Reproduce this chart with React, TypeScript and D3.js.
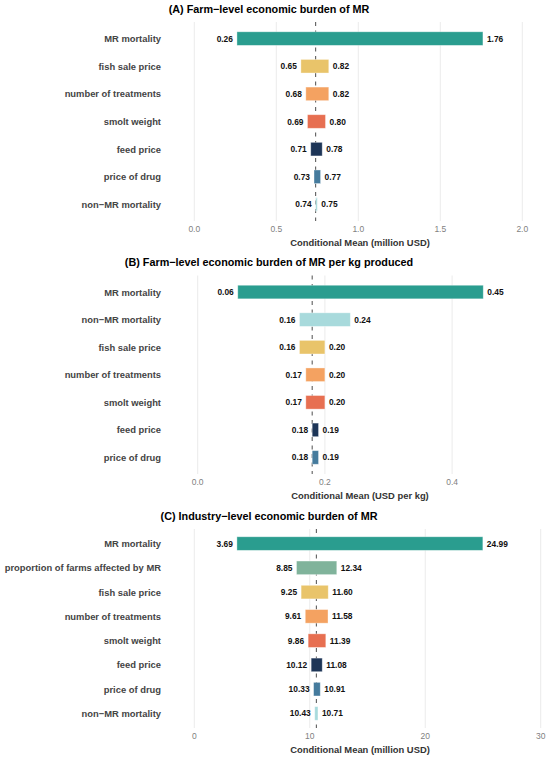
import * as d3 from "d3";

// Tornado charts: conditional mean of the economic burden of MR when each
// input is set to its low / high value.

const FONT = "'Liberation Sans', Arial, Helvetica, sans-serif";

const FACTOR_COLORS: Record<string, string> = {
  "MR mortality": "#2a9d8f",
  "proportion of farms affected by MR": "#80b39b",
  "fish sale price": "#e9c46a",
  "number of treatments": "#f4a261",
  "smolt weight": "#e76f51",
  "feed price": "#1d3557",
  "price of drug": "#457b9d",
  "non−MR mortality": "#a8dadc",
};

// ===== (A) farm level, million USD =====
const A_FACTORS = [
  "MR mortality",
  "fish sale price",
  "number of treatments",
  "smolt weight",
  "feed price",
  "price of drug",
  "non−MR mortality",
];
const A_LOW = [0.26, 0.65, 0.68, 0.69, 0.71, 0.73, 0.74];
const A_HIGH = [1.76, 0.82, 0.82, 0.8, 0.78, 0.77, 0.75];
const A_BASE = 0.74;
const A_TICKS = [0, 0.5, 1, 1.5, 2];

// ===== (B) farm level, USD per kg =====
const B_FACTORS = [
  "MR mortality",
  "non−MR mortality",
  "fish sale price",
  "number of treatments",
  "smolt weight",
  "feed price",
  "price of drug",
];
const B_LOW = [0.063, 0.16, 0.16, 0.17, 0.17, 0.18, 0.18];
const B_HIGH = [0.449, 0.24, 0.2, 0.2, 0.2, 0.19, 0.19];
const B_BASE = 0.18;
const B_TICKS = [0, 0.2, 0.4];

// ===== (C) industry level, million USD =====
const C_FACTORS = [
  "MR mortality",
  "proportion of farms affected by MR",
  "fish sale price",
  "number of treatments",
  "smolt weight",
  "feed price",
  "price of drug",
  "non−MR mortality",
];
const C_LOW = [3.69, 8.85, 9.25, 9.61, 9.86, 10.12, 10.33, 10.43];
const C_HIGH = [24.99, 12.34, 11.6, 11.58, 11.39, 11.08, 10.91, 10.71];
const C_BASE = 10.57;
const C_TICKS = [0, 10, 20, 30];

interface PanelProps {
  title: string;
  xLabel: string;
  factors: string[];
  low: number[];
  high: number[];
  base: number;
  ticks: number[];
  tickFmt: string;
  top: number;
  bottom: number;
  x0: number;
  x1: number;
}

function Panel({ title, xLabel, factors, low, high, base, ticks, tickFmt, top, bottom, x0, x1 }: PanelProps) {
  const x = d3
    .scaleLinear()
    .domain([ticks[0], ticks[ticks.length - 1]])
    .range([x0, x1]);
  const y = d3.scalePoint<string>().domain(factors).range([top, bottom]).padding(0.6);
  const barH = 13.6;
  const fmt = d3.format(tickFmt);
  const midX = 360;

  return (
    <g>
      <text
        x={269}
        y={top - 13.5}
        textAnchor="middle"
        dominantBaseline="central"
        fontSize={10.8}
        fontWeight={700}
        fill="#000"
      >
        {title}
      </text>

      {/* grid */}
      {ticks.map((t) => (
        <line key={t} x1={x(t)} x2={x(t)} y1={top} y2={bottom} stroke="#ebebeb" strokeWidth={1} />
      ))}

      {/* baseline */}
      <line
        x1={x(base)}
        x2={x(base)}
        y1={top}
        y2={bottom}
        stroke="#4d4d4d"
        strokeWidth={1}
        strokeDasharray="4,4.5"
      />

      {factors.map((f, i) => {
        const cy = y(f) as number;
        const xl = x(low[i]);
        const xh = x(high[i]);
        return (
          <g key={f}>
            <text
              x={161}
              y={cy}
              textAnchor="end"
              dominantBaseline="central"
              fontSize={9.4}
              fontWeight={700}
              fill="#444"
            >
              {f}
            </text>
            <rect
              x={xl}
              y={cy - barH / 2}
              width={Math.max(xh - xl, 1.5)}
              height={barH}
              fill={FACTOR_COLORS[f]}
              stroke="#ffffff"
              strokeOpacity={0.45}
              strokeWidth={0.8}
            />
            <text
              x={xl - 4}
              y={cy}
              textAnchor="end"
              dominantBaseline="central"
              fontSize={8.4}
              fontWeight={700}
              fill="#111"
            >
              {low[i].toFixed(2)}
            </text>
            <text
              x={xh + 4}
              y={cy}
              textAnchor="start"
              dominantBaseline="central"
              fontSize={8.4}
              fontWeight={700}
              fill="#111"
            >
              {high[i].toFixed(2)}
            </text>
          </g>
        );
      })}

      {ticks.map((t) => (
        <text
          key={`l${t}`}
          x={x(t)}
          y={bottom + 8}
          textAnchor="middle"
          dominantBaseline="central"
          fontSize={8.5}
          fill="#7f7f7f"
        >
          {fmt(t)}
        </text>
      ))}

      <text
        x={midX}
        y={bottom + 21.5}
        textAnchor="middle"
        dominantBaseline="central"
        fontSize={9.4}
        fontWeight={700}
        fill="#333"
      >
        {xLabel}
      </text>
    </g>
  );
}

export default function App() {
  return (
    <svg
      width={550}
      height={759}
      viewBox="0 0 550 759"
      style={{ position: "absolute", left: 0, top: 0, background: "#fff" }}
      fontFamily={FONT}
    >
      <rect width={550} height={759} fill="#fff" />
      <Panel
        title="(A) Farm−level economic burden of MR"
        xLabel="Conditional Mean (million USD)"
        factors={A_FACTORS}
        low={A_LOW}
        high={A_HIGH}
        base={A_BASE}
        ticks={A_TICKS}
        tickFmt=".1f"
        top={22}
        bottom={221}
        x0={194.3}
        x1={522.3}
      />
      <Panel
        title="(B) Farm−level economic burden of MR per kg produced"
        xLabel="Conditional Mean (USD per kg)"
        factors={B_FACTORS}
        low={B_LOW}
        high={B_HIGH}
        base={B_BASE}
        ticks={B_TICKS}
        tickFmt=".1f"
        top={275.5}
        bottom={474}
        x0={197.7}
        x1={452.1}
      />
      <Panel
        title="(C) Industry−level economic burden of MR"
        xLabel="Conditional Mean (million USD)"
        factors={C_FACTORS}
        low={C_LOW}
        high={C_HIGH}
        base={C_BASE}
        ticks={C_TICKS}
        tickFmt="d"
        top={529}
        bottom={728}
        x0={194.3}
        x1={540.7}
      />
    </svg>
  );
}
